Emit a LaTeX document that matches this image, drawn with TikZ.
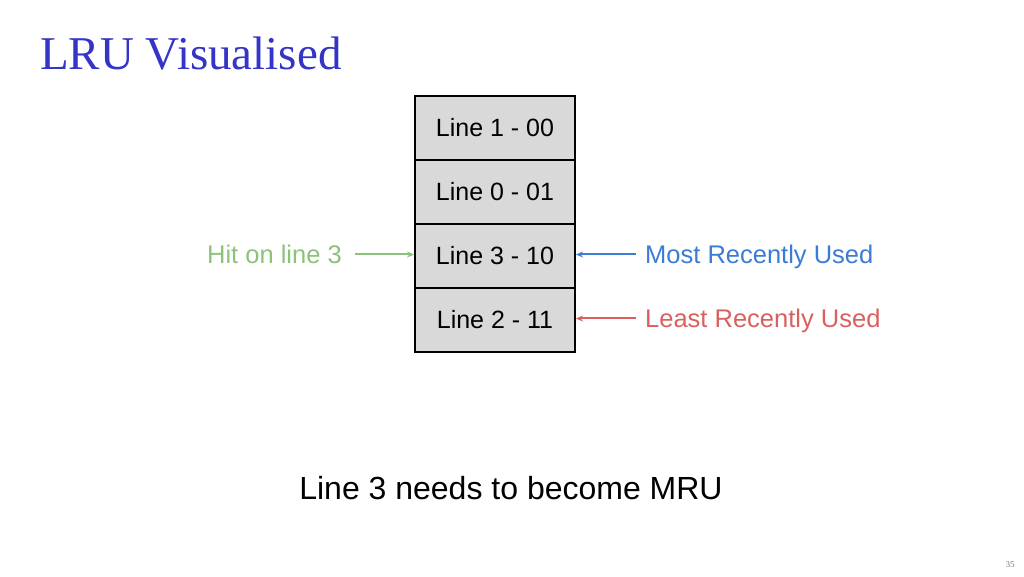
\documentclass[tikz,border=0pt]{standalone}
\usepackage{fontspec}
\setmainfont{Liberation Serif}
\setsansfont{Liberation Sans}
\usepackage{tikz}
\usetikzlibrary{arrows.meta,positioning}
\definecolor{titleblue}{RGB}{52,52,200}
\definecolor{hitgreen}{RGB}{140,194,122}
\definecolor{mrublue}{RGB}{58,124,214}
\definecolor{lrured}{RGB}{218,96,96}
\definecolor{cellgray}{RGB}{217,217,217}
\tikzset{
  cellbox/.style={rectangle,draw=black,line width=2pt,fill=cellgray,outer sep=0pt,
    minimum width=160pt,minimum height=64pt,font=\sffamily\fontsize{25}{30}\selectfont},
  sidelabel/.style={inner sep=0pt,text depth=0pt,font=\sffamily\fontsize{25.5}{30}\selectfont},
  pointer/.style={line width=2pt,-{Stealth[length=7pt,width=6pt]}}
}

\begin{document}
\begin{tikzpicture}[x=1pt,y=1pt]
  \useasboundingbox[fill=white] (0,0) rectangle (1024,576);
  \node[anchor=base west,inner sep=0pt,text=titleblue,font=\fontsize{47}{52}\selectfont] (title) at (40,506) {LRU Visualised};
  % cache lines, MRU on top
  \node[cellbox] (L1) at (495,448) {Line 1 - 00};
  \node[cellbox, below=0pt of L1] (L0) {Line 0 - 01};
  \node[cellbox, below=0pt of L0] (L3) {Line 3 - 10};
  \node[cellbox, below=0pt of L3] (L2) {Line 2 - 11};
  \node[sidelabel, text=hitgreen, left=73pt of L3, yshift=1.5pt] (hit) {Hit on line 3};
  \node[sidelabel, text=mrublue, right=70pt of L3, yshift=1.5pt] (mru) {Most Recently Used};
  \node[sidelabel, text=lrured, right=70pt of L2, yshift=1.5pt] (lru) {Least Recently Used};
  \draw[pointer, hitgreen, shorten <=13pt, shorten >=1pt] (hit.east) -- (hit.east -| L3.west);
  \draw[pointer, mrublue, shorten <=9pt, shorten >=1pt] (mru.west) -- (mru.west -| L3.east);
  \draw[pointer, lrured, shorten <=9pt, shorten >=1pt] (lru.west) -- (lru.west -| L2.east);
  \node[anchor=base,inner sep=0pt,font=\sffamily\fontsize{32}{38}\selectfont] (note) at (511,77) {Line 3 needs to become MRU};
  \node[inner sep=0pt,text=gray,font=\fontsize{9}{10}\selectfont] (page) at (1010,11) {35};
\end{tikzpicture}
\end{document}
